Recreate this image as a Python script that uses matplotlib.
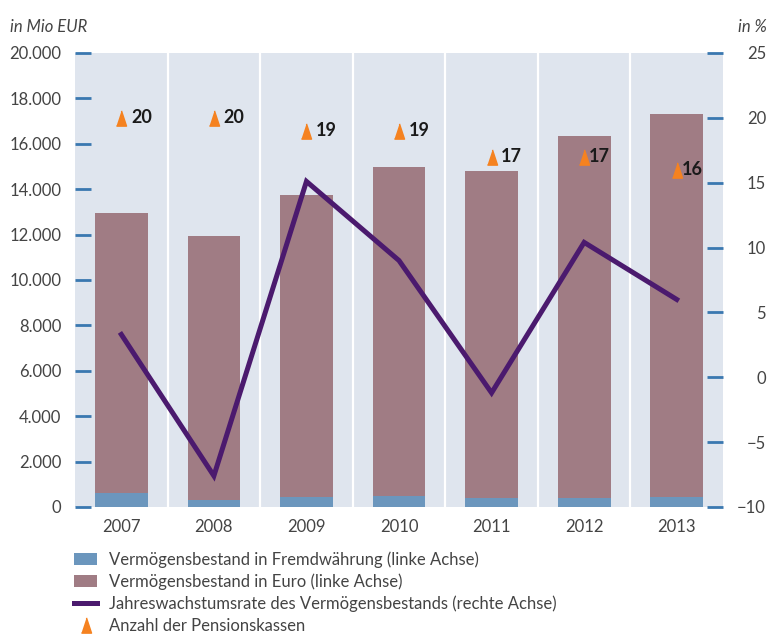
import matplotlib
matplotlib.use('Agg')
import matplotlib.pyplot as plt
from matplotlib.patches import Patch
from matplotlib.lines import Line2D
import numpy as np

plt.rcParams['font.family'] = ['Lato', 'DejaVu Sans']

# data
years = ['2007', '2008', '2009', '2010', '2011', '2012', '2013']
fremd = [620, 310, 440, 480, 410, 410, 440]            # Mio EUR
total = [12950, 11940, 13740, 14980, 14800, 16340, 17310]
euro = [t - f for t, f in zip(total, fremd)]
growth = [3.3, -7.6, 15.1, 9.0, -1.2, 10.4, 6.0]          # in %
kassen = [20, 20, 19, 19, 17, 17, 16]

# label offsets (points) next to the triangles
label_dx = [7, 7, 7, 7, 7, 3.5, 3.5]

c_bg = '#dfe5ee'
c_fremd = '#6b96bd'
c_euro = '#a07c84'
c_line = '#4b1a6e'
c_tri = '#f58220'
c_tick = '#3a78b0'
c_text = '#444444'

fig = plt.figure(figsize=(7.68, 6.37), dpi=100)
ax = fig.add_axes([0.0977, 0.2041, 0.8437, 0.7127])
ax.set_facecolor(c_bg)
ax2 = ax.twinx()

x = np.arange(len(years))
w = 0.57
ax.bar(x, fremd, w, color=c_fremd, zorder=2)
ax.bar(x, euro, w, bottom=fremd, color=c_euro, zorder=2)
for i in range(len(years) - 1):
    ax.axvline(i + 0.5, color='white', lw=1.6, zorder=1)

ax.set_xlim(-0.5, len(years) - 0.5)
ax.set_ylim(0, 20000)
ax.set_yticks(np.arange(0, 20001, 2000))
ax.set_yticklabels([f'{v:,}'.replace(',', '.') for v in range(0, 20001, 2000)])
ax.set_xticks(x)
ax.set_xticklabels(years)

ax2.set_ylim(-10, 25)
ax2.set_yticks(np.arange(-10, 26, 5))
ax2.plot(x, growth, color=c_line, lw=3.6, zorder=4, solid_joinstyle='miter')

tri = [(-0.33, -0.5), (0.33, -0.5), (0, 0.5)]
ax2.plot(x, kassen, ls='none', marker=tri, ms=11, color=c_tri, zorder=5)
for xi, k, dx in zip(x, kassen, label_dx):
    ax2.annotate(str(k), (xi, k), xytext=(dx, 0), textcoords='offset points',
                 va='center', ha='left', fontsize=13, fontweight='bold',
                 color='#1a1a1a', zorder=6)

for a in (ax, ax2):
    for s in a.spines.values():
        s.set_visible(False)
ax.tick_params(axis='y', direction='in', length=11.5, width=2, color=c_tick,
               pad=10, labelsize=12, labelcolor=c_text)
ax2.tick_params(axis='y', direction='in', length=11.5, width=2, color=c_tick,
                pad=31, labelsize=12, labelcolor=c_text)
ax.tick_params(axis='x', length=0, pad=9, labelsize=12, labelcolor=c_text)
for lab in ax2.get_yticklabels():
    lab.set_ha('right')

fig.text(0.013, 0.958, 'in Mio EUR', style='italic', fontsize=12, color=c_text,
         va='center', ha='left')
fig.text(0.998, 0.958, 'in %', style='italic', fontsize=12, color=c_text,
         va='center', ha='right')

handles = [
    Patch(facecolor=c_fremd),
    Patch(facecolor=c_euro),
    Line2D([], [], color=c_line, lw=3.6),
    Line2D([], [], ls='none', marker=tri, ms=11, color=c_tri),
]
labels = [
    'Vermögensbestand in Fremdwährung (linke Achse)',
    'Vermögensbestand in Euro (linke Achse)',
    'Jahreswachstumsrate des Vermögensbestands (rechte Achse)',
    'Anzahl der Pensionskassen',
]
leg = fig.legend(handles, labels, loc='upper left', bbox_to_anchor=(0.097, 0.135),
                 frameon=False, fontsize=12, labelspacing=0.34, handlelength=1.35,
                 handletextpad=0.7, borderpad=0, borderaxespad=0)
for t in leg.get_texts():
    t.set_color(c_text)

fig.savefig('out.png', dpi=100)
